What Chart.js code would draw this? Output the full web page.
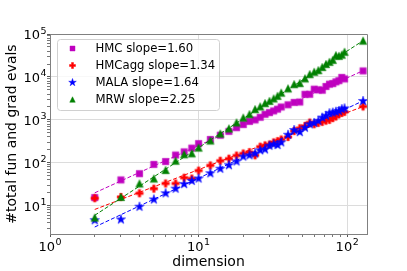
<!DOCTYPE html>
<html><head><meta charset="utf-8">
<script src="https://cdn.jsdelivr.net/npm/chart.js@4/dist/chart.umd.min.js"></script>
<style>html,body{margin:0;padding:0;background:#fff}</style>
</head><body>
<canvas id="c" width="407" height="271"></canvas>
<script>
// ---- data ----
const dims   = [2,3,4,5,6,7,8,9,10,12,14,16,18,20,22,24,26,28,30,32,34,36,40,44,48,52,56,60,64,68,72,76,80,84,88,92,96,128];
const hmc    = [15.5,40,56,92,107,152,180,220,280,350,440,540,660,780,920,1000,1150,1350,1480,1620,1780,2000,2250,2550,2600,3950,3950,5200,5000,4900,6000,6800,7000,7700,8200,9750,9000,13800];
const hmcagg = [15,16,19.5,25,33,33,45,43,66,87,112,125,148,165,178,150,238,255,268,300,320,350,400,550,640,725,867,792,850,897,960,1000,1100,1200,1350,1450,1535,2050];
const mala   = [4.6,4.8,9.5,14,19.5,25,32,38,43,57,73,88,108,140,150,165,195,205,250,270,260,300,450,580,520,660,790,850,950,1130,1250,1430,1480,1550,1620,1775,1850,2750];
const mrw    = [5.3,16,33,43,68,112,158,166,226,330,480,630,870,1130,1360,1780,2050,2450,2770,3150,3630,4300,5400,6800,7200,9250,11600,13200,14400,17000,20000,22500,25000,32000,31000,33000,38600,70000];
// fitted lines (end points)
const fitX      = [2,128];
const hmcFit    = [20,14000];
const hmcaggFit = [8.2,2050];
const malaFit   = [3.2,2780];
const mrwFit    = [6.0,70000];
const seriesLabels = ['HMC slope=1.60','HMCagg slope=1.34','MALA slope=1.64','MRW slope=2.25'];
const xTickValues = [1,10,100];
const xTickBase = ['10','10','10'];
const xTickExp  = ['0','1','2'];
const yTickValues = [10,100,1000,10000,100000];
const yTickBase = ['10','10','10','10','10'];
const yTickExp  = ['1','2','3','4','5'];

// ---- styles ----
const colors = ['#bf00bf','#ff0000','#0000ff','#008000'];
const shapes = ['square','plus','star','triangle'];
const plotSizes = [6.5,7.5,10,7.5];
const legendSizes = [5,6,8,5.5];
const FONT = 'DejaVu Sans';

function pathShape(g, shape, s){
  g.beginPath();
  const h = s/2;
  if (shape==='square'){ g.rect(-h,-h,s,s); }
  else if (shape==='plus'){
    const a = s/6;
    g.moveTo(-a,-h); g.lineTo(a,-h); g.lineTo(a,-a); g.lineTo(h,-a); g.lineTo(h,a); g.lineTo(a,a);
    g.lineTo(a,h); g.lineTo(-a,h); g.lineTo(-a,a); g.lineTo(-h,a); g.lineTo(-h,-a); g.lineTo(-a,-a);
    g.closePath();
  } else if (shape==='star'){
    const R = h, r = h*0.381966;
    for (let i=0;i<10;i++){
      const ang = -Math.PI/2 + i*Math.PI/5;
      const rr = (i%2===0)?R:r;
      const px = rr*Math.cos(ang), py = rr*Math.sin(ang);
      if(i===0) g.moveTo(px,py); else g.lineTo(px,py);
    }
    g.closePath();
  } else if (shape==='triangle'){
    g.moveTo(0,-h); g.lineTo(h,h); g.lineTo(-h,h); g.closePath();
  }
}
function drawShape(g, shape, x, y, s, color){
  g.save(); g.translate(x,y);
  pathShape(g, shape, s);
  g.fillStyle = color; g.fill();
  g.globalAlpha = 0.45; g.lineWidth = 1; g.strokeStyle = color; g.stroke();
  g.restore();
}
function makeMarker(shape, color, s){
  const n = Math.ceil(s) + 4;
  const c = document.createElement('canvas'); c.width = n; c.height = n;
  drawShape(c.getContext('2d'), shape, n/2, n/2, s, color);
  return c;
}

const seriesData = [hmc, hmcagg, mala, mrw];
const fitData = [hmcFit, hmcaggFit, malaFit, mrwFit];
const datasets = [];
seriesData.forEach((vals, k) => {
  datasets.push({
    label: seriesLabels[k],
    data: dims.map((d,i)=>({x:d, y:vals[i]})),
    showLine: false,
    pointStyle: makeMarker(shapes[k], colors[k], plotSizes[k]),
    pointRadius: 5,
    order: 8 - 2*k
  });
  datasets.push({
    label: seriesLabels[k] + ' fit',
    data: fitX.map((d,i)=>({x:d, y:fitData[k][i]})),
    showLine: true,
    pointRadius: 0,
    borderColor: colors[k],
    borderWidth: 1,
    borderDash: [4,2],
    order: 7 - 2*k
  });
});

function minorTicks(vals, lo, hi){
  const out = [];
  vals.concat([vals[0]/10]).forEach(v => {
    for (let m=1;m<10;m++){ const t = v*m; if (t>=lo-1e-9 && t<=hi*1.0000001) out.push(t); }
  });
  return Array.from(new Set(out)).sort((a,b)=>a-b);
}
const isMajor = (v, arr) => arr.some(t => Math.abs(t-v)/t < 1e-9);

const BASE_PX = 13, EXP_PX = 9.5;
function drawPowerLabel(ctx, base, exp, x, baseline, align){
  ctx.font = BASE_PX + 'px "' + FONT + '"';
  const wb = ctx.measureText(base).width;
  ctx.font = EXP_PX + 'px "' + FONT + '"';
  const we = ctx.measureText(exp).width;
  const total = wb + we + 0.5;
  let left = align === 'center' ? x - total/2 : x - total;
  ctx.textAlign = 'left'; ctx.textBaseline = 'alphabetic'; ctx.fillStyle = '#000';
  ctx.font = BASE_PX + 'px "' + FONT + '"';
  ctx.fillText(base, left, baseline);
  ctx.font = EXP_PX + 'px "' + FONT + '"';
  ctx.fillText(exp, left + wb + 0.5, baseline - 5.5);
}

const frame = {
  id:'frameLegend',
  afterDraw(chart){
    const ctx = chart.ctx, a = chart.chartArea;
    ctx.save();
    ctx.strokeStyle = '#808080'; ctx.lineWidth = 1;
    ctx.beginPath();
    ctx.moveTo(Math.round(a.left)+0.5, Math.round(a.top)+0.5);
    ctx.lineTo(Math.round(a.right)+0.5, Math.round(a.top)+0.5);
    ctx.lineTo(Math.round(a.right)+0.5, Math.round(a.bottom)+0.5);
    ctx.stroke();
    // tick labels with superscript exponents
    const xs = chart.scales.x, ys = chart.scales.y;
    xTickValues.forEach((v,i) => drawPowerLabel(ctx, xTickBase[i], xTickExp[i], xs.getPixelForValue(v), a.bottom + 16.7, 'center'));
    yTickValues.forEach((v,i) => drawPowerLabel(ctx, yTickBase[i], yTickExp[i], a.left - 3.5, ys.getPixelForValue(v) + 5, 'right'));
    // legend
    const x0 = a.left + 7.5, y0 = a.top + 5.5, w = 162, h = 71, r = 3;
    ctx.beginPath();
    ctx.moveTo(x0+r,y0); ctx.lineTo(x0+w-r,y0); ctx.arcTo(x0+w,y0,x0+w,y0+r,r);
    ctx.lineTo(x0+w,y0+h-r); ctx.arcTo(x0+w,y0+h,x0+w-r,y0+h,r);
    ctx.lineTo(x0+r,y0+h); ctx.arcTo(x0,y0+h,x0,y0+h-r,r);
    ctx.lineTo(x0,y0+r); ctx.arcTo(x0,y0,x0+r,y0,r); ctx.closePath();
    ctx.fillStyle = 'rgba(255,255,255,0.8)'; ctx.fill();
    ctx.strokeStyle = '#d0d0d0'; ctx.stroke();
    ctx.font = '11.7px "' + FONT + '"';
    ctx.fillStyle = '#000'; ctx.textBaseline = 'middle'; ctx.textAlign = 'left';
    seriesLabels.forEach((lab,k) => {
      const yy = y0 + 9 + k*17;
      drawShape(ctx, shapes[k], x0 + 15, yy, legendSizes[k], colors[k]);
      ctx.fillStyle = '#000';
      ctx.fillText(lab, x0 + 38, yy + 0.5);
    });
    ctx.restore();
  }
};

new Chart(document.getElementById('c'), {
  type: 'scatter',
  data: { datasets },
  options: {
    responsive: false, animation: false, devicePixelRatio: 1,
    layout: { padding: { top: 34, right: 40, left: 0, bottom: 0 } },
    plugins: { legend: { display: false }, tooltip: { enabled: false } },
    scales: {
      x: {
        type: 'logarithmic', position: 'bottom', min: 1, max: 136,
        afterBuildTicks: s => { s.ticks = minorTicks(xTickValues, 1, 136).map(v => ({value: v, major: isMajor(v, xTickValues)})); },
        afterFit: s => { s.height = 37; },
        ticks: { autoSkip: false, maxRotation: 0, padding: 1, color: 'rgba(0,0,0,0)', font: { family: FONT, size: 13 }, callback: () => '' },
        grid: {
          color: c => (c.tick && isMajor(c.tick.value, xTickValues)) ? '#dcdcdc' : 'rgba(0,0,0,0)',
          tickColor: c => (c.tick && isMajor(c.tick.value, xTickValues)) ? '#555' : '#777',
          tickLength: 3, lineWidth: 1
        },
        border: { display: true, color: '#808080', width: 1 },
        title: { display: true, text: 'dimension', color: '#000', font: { family: FONT, size: 14 }, padding: { top: 0, bottom: 0 } }
      },
      y: {
        type: 'logarithmic', position: 'left', min: 2.2, max: 100000,
        afterBuildTicks: s => { s.ticks = minorTicks(yTickValues, 2.2, 100000).map(v => ({value: v, major: isMajor(v, yTickValues)})); },
        afterFit: s => { s.width = 50; },
        ticks: { autoSkip: false, padding: 1, color: 'rgba(0,0,0,0)', font: { family: FONT, size: 13 }, callback: () => '' },
        grid: {
          color: c => (c.tick && isMajor(c.tick.value, yTickValues)) ? '#dcdcdc' : 'rgba(0,0,0,0)',
          tickColor: c => (c.tick && isMajor(c.tick.value, yTickValues)) ? '#555' : '#777',
          tickLength: 3, lineWidth: 1
        },
        border: { display: true, color: '#808080', width: 1 },
        title: { display: true, text: '#total fun and grad evals', color: '#000', font: { family: FONT, size: 14 }, padding: { top: 4, bottom: 0 } }
      }
    }
  },
  plugins: [frame]
});
</script>
</body></html>
